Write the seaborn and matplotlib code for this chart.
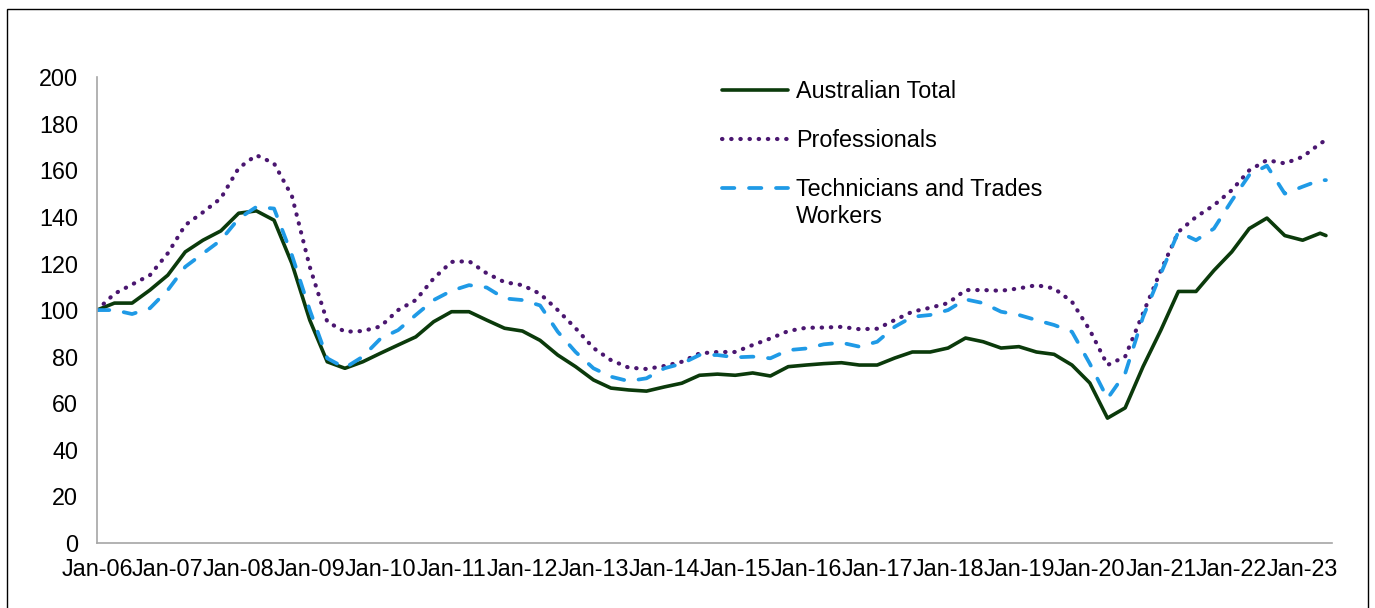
import pandas as pd
import matplotlib
matplotlib.use("Agg")
import matplotlib.pyplot as plt
import matplotlib.dates as mdates
from matplotlib.patches import Rectangle
import seaborn as sns

# quarterly readings (Jan, Apr, Jul, Oct) from Jan-06, plus a final May-23 point
dates = list(pd.date_range("2006-01-01", "2023-04-01", freq="QS")) + [pd.Timestamp("2023-05-01")]

australian_total = [
    100, 103, 103, 108.6, 115, 125, 130, 134, 141.6, 142.6, 138.6, 120,
    95.7, 77.8, 75, 77.8, 81.5, 85, 88.5, 95, 99.3, 99.3, 95.7, 92.2,
    91, 87, 80.7, 75.7, 70, 66.5, 65.7, 65.2, 67, 68.6, 72, 72.5,
    72, 73, 71.7, 75.7, 76.4, 77, 77.4, 76.4, 76.4, 79.4, 82, 82,
    83.7, 88, 86.4, 83.7, 84.3, 82, 81, 76.4, 68.7, 53.6, 58, 75.7,
    91.4, 108, 108, 117, 125, 135, 139.5, 132, 130, 133, 132,
]
professionals = [
    100, 107, 111, 115, 124.4, 136.5, 142, 148, 161, 166.5, 163, 149,
    118.6, 95, 90.7, 91, 93, 100, 104.3, 113.6, 120.7, 121, 115.8, 112,
    110.7, 107, 100, 92.2, 83.7, 78.5, 75.3, 74.7, 76, 77.8, 81.4, 82,
    82, 85, 87.8, 91, 92.4, 92.5, 92.8, 91.8, 92, 95.7, 99.3, 101,
    103, 108.6, 108.6, 108.3, 109.3, 110.7, 109.3, 103.6, 91.4, 76.4, 80, 98.6,
    117, 133.6, 140, 145, 151.5, 160, 164.4, 163, 165.8, 171.5, 173,
]
technicians = [
    100, 100, 98.3, 100.8, 108.6, 118.6, 124.3, 130, 139.3, 144.3, 143.6, 123.6,
    100, 79.3, 75.2, 80, 87.8, 91.4, 97.9, 104.3, 108.3, 110.7, 109.7, 105,
    104.3, 102, 90.7, 82, 75, 71.4, 69.5, 70.7, 75, 77, 80.7, 80.7,
    79.7, 80, 79.3, 82.8, 83.5, 85.3, 86, 84.3, 86.4, 92.8, 97.1, 97.9,
    100, 104.6, 103, 99.3, 97.9, 95.7, 93.6, 90.7, 77, 62, 72.8, 97,
    115.7, 133.6, 130, 135, 147, 158, 162, 150, 153, 155.8, 155.8,
]

df = pd.DataFrame({
    "date": dates,
    "Australian Total": australian_total,
    "Professionals": professionals,
    "Technicians and Trades": technicians,
})

sns.set_style("white")
plt.rcParams["font.family"] = ["Liberation Sans", "DejaVu Sans"]
plt.rcParams["text.color"] = "black"
FS = 16.8

fig = plt.figure(figsize=(13.75, 6.08), dpi=100)
ax = fig.add_axes([0.0705, 0.107, 0.8982, 0.766])

sns.lineplot(data=df, x="date", y="Australian Total", ax=ax, color="#0b3a0b",
             lw=2.6, label="Australian Total")
sns.lineplot(data=df, x="date", y="Professionals", ax=ax, color="#4a1670",
             lw=3.0, linestyle=(0, (0.1, 2.1)), dash_capstyle="round",
             label="Professionals")
sns.lineplot(data=df, x="date", y="Technicians and Trades", ax=ax, color="#1f9ae6",
             lw=2.7, linestyle=(0, (3.3, 3.9)), dash_capstyle="round",
             label="Technicians and Trades")

ax.set_ylim(0, 200)
ax.set_yticks(range(0, 201, 20))
ax.set_xlim(pd.Timestamp("2006-01-01"), pd.Timestamp("2023-06-01"))
ax.xaxis.set_major_locator(mdates.YearLocator())
ax.xaxis.set_major_formatter(mdates.DateFormatter("%b-%y"))
ax.set_xlabel("")
ax.set_ylabel("")

for side in ["top", "right"]:
    ax.spines[side].set_visible(False)
for side in ["left", "bottom"]:
    ax.spines[side].set_color("#a6a6a6")
    ax.spines[side].set_linewidth(1.2)
ax.tick_params(axis="both", direction="out", length=4.5, width=1, color="#a6a6a6",
               labelsize=FS, labelcolor="black")
ax.tick_params(axis="y", pad=9)
ax.tick_params(axis="x", pad=6)

leg = ax.legend(loc="upper left", bbox_to_anchor=(0.506, 0.993), frameon=False,
                fontsize=FS, handlelength=2.83, handletextpad=0.34,
                labelspacing=1.1, borderpad=0, borderaxespad=0, labelcolor="black")

# second line of the last legend label, placed under its first line
fig.canvas.draw()
bb = leg.get_texts()[2].get_window_extent()
x0, y0 = fig.transFigure.inverted().transform((bb.x0, bb.y0))
fig.text(x0, y0 - 27 / 608, "Workers", fontsize=FS, color="black",
         ha="left", va="bottom")

fig.add_artist(Rectangle((7 / 1375, -0.05), 1361 / 1375, 0.985 + 0.05,
                         transform=fig.transFigure, fill=False, ec="black",
                         lw=1, clip_on=False))

fig.savefig("out.png", dpi=100)
